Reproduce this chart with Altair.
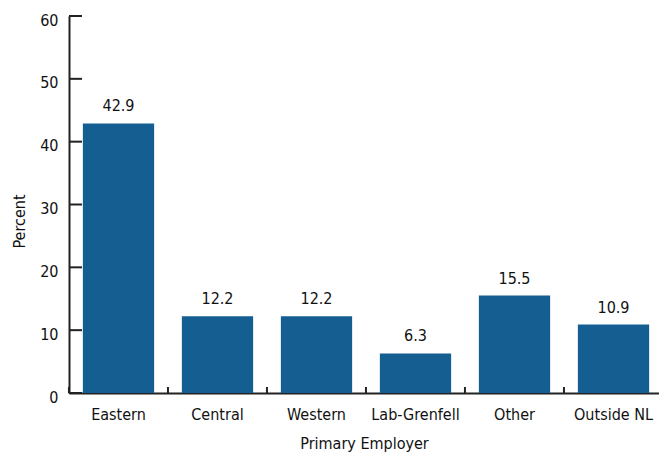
import altair as alt
import pandas as pd

# Share of respondents by primary employer
employers = ["Eastern", "Central", "Western", "Lab-Grenfell", "Other", "Outside NL"]
percents = [42.9, 12.2, 12.2, 6.3, 15.5, 10.9]
y_ticks = [0, 10, 20, 30, 40, 50, 60]

FONT = "Liberation Sans Narrow, DejaVu Sans Condensed, Roboto, sans-serif"
BAR = "#155e92"
INK = "#222222"

df = pd.DataFrame({"employer": employers, "percent": percents})
ticks_df = pd.DataFrame({"v": y_ticks})

# the last category cell runs slightly past the right edge of the view
x_scale = alt.Scale(paddingInner=0.28, paddingOuter=0.14, range=[0, 594])
y_scale = alt.Scale(domain=[0, 60])

x_enc = alt.X(
    "employer:N",
    sort=employers,
    scale=x_scale,
    axis=alt.Axis(
        title="Primary Employer",
        titleX=295,
        titleY=55,
        titleBaseline="alphabetic",
        labelAngle=0,
        ticks=False,
        labelPadding=13,
        domainColor=INK,
        domainWidth=2,
    ),
)

bars = alt.Chart(df).mark_bar(color=BAR).encode(
    x=x_enc,
    y=alt.Y(
        "percent:Q",
        scale=y_scale,
        axis=alt.Axis(
            title="Percent",
            titleY=205,
            values=y_ticks,
            ticks=False,
            grid=False,
            labelPadding=11,
            labelOffset=4,
            titlePadding=12,
            domainColor=INK,
            domainWidth=2,
        ),
    ),
)

labels = alt.Chart(df).mark_text(
    baseline="bottom", dy=-9, fontSize=16, font=FONT, color="#111111"
).encode(
    x=alt.X("employer:N", sort=employers, scale=x_scale),
    y=alt.Y("percent:Q", scale=y_scale),
    text=alt.Text("percent:Q", format=".1f"),
)

# inward ticks on the value axis
y_tick_marks = alt.Chart(ticks_df).mark_rule(color=INK, strokeWidth=2).encode(
    x=alt.value(0),
    x2=alt.value(13),
    y=alt.Y("v:Q", scale=y_scale),
)

# short upward ticks at the category cell boundaries
x_tick_marks = alt.Chart(df).mark_rule(color=INK, strokeWidth=2, xOffset=-13.9).encode(
    x=alt.X("employer:N", sort=employers, scale=x_scale, bandPosition=0),
    y=alt.value(377),
    y2=alt.value(371),
)

chart = (
    alt.layer(bars, labels, y_tick_marks, x_tick_marks)
    .properties(
        width=590,
        height=377,
        autosize=alt.AutoSizeParams(type="none"),
        padding={"left": 69, "top": 16, "right": 0, "bottom": 60},
        background="white",
    )
    .configure_view(stroke=None)
    .configure_axis(
        labelFont=FONT,
        titleFont=FONT,
        labelFontSize=16,
        titleFontSize=16,
        labelColor="#111111",
        titleColor="#111111",
        titleFontWeight="normal",
    )
)

chart.save("out.html", embed_options={"renderer": "svg", "actions": False})
